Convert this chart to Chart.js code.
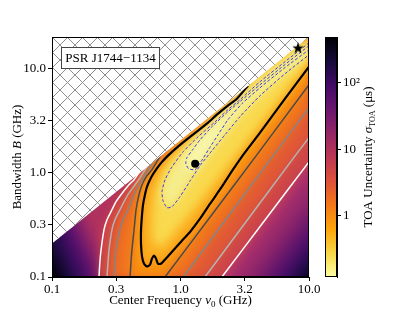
<!DOCTYPE html>
<html>
<head>
<meta charset="utf-8">
<script src="https://cdn.jsdelivr.net/npm/chart.js@4.4.3/dist/chart.umd.min.js"></script>
<style>
    html, body { margin: 0; padding: 0; background: #fff; }
    .wrap { position: relative; width: 415px; height: 312px; }
    .wrap canvas { position: absolute; left: 0; top: 0; }
</style>
</head>
<body>
<div class="wrap">
    <canvas id="mapChart" width="415" height="312"></canvas>
    <canvas id="barChart" width="415" height="312"></canvas>
</div>
<script>
const FONT = "'Liberation Serif', 'DejaVu Serif', serif";

// axes
const freqTicks = [0.1, 0.316, 1, 3.16, 10];
const freqTickLabels = ['0.1', '0.3', '1.0', '3.2', '10.0'];
const bandTicks = [0.1, 0.316, 1, 3.16, 10];
const bandTickLabels = ['0.1', '0.3', '1.0', '3.2', '10.0'];
const sigmaTicks = [1, 10, 100];
const sigmaTickLabels = ['1', '10', '10²'];
const sigmaRange = [0.12, 490];

// B = 2 nu0 limit, hatched above
const bandLimit = [[0.1, 0.21], [10, 20]];

// contour lines [nu0, B]
const whiteLeft = [[0.232, 0.1], [0.236, 0.140], [0.241, 0.183], [0.254, 0.284], [0.268, 0.354], [0.293, 0.442], [0.315, 0.527], [0.344, 0.615], [0.397, 0.767], [0.435, 0.857], [0.475, 1.00]];
const whiteRight = [[2.10, 0.1], [4.59, 0.358], [10, 1.27]];
const lgrayLeft = [[0.268, 0.1], [0.273, 0.140], [0.278, 0.183], [0.293, 0.284], [0.309, 0.354], [0.338, 0.442], [0.390, 0.615], [0.443, 0.767], [0.484, 0.896], [0.549, 1.14]];
const lgrayRight = [[1.55, 0.1], [7.92, 1.49], [10, 2.17]];
const grayLeft = [[0.304, 0.1], [0.309, 0.140], [0.315, 0.183], [0.338, 0.284], [0.357, 0.354], [0.390, 0.442], [0.435, 0.615], [0.475, 0.767], [0.520, 0.916], [0.600, 1.22]];
const grayRight = [[1.05, 0.1], [5.34, 1.49], [10, 4.20]];
const dgrayLeft = [[0.405, 0.1], [0.412, 0.140], [0.419, 0.183], [0.435, 0.284], [0.451, 0.442], [0.475, 0.615], [0.502, 0.767], [0.549, 0.936], [0.600, 1.07], [0.705, 1.49]];
const dgrayRight = [[0.758, 0.1], [1.73, 0.387], [3.94, 1.49], [10, 6.98]];
const blackLine = [[3.35, 6.83], [2.75, 5.12], [2.34, 4.39], [1.96, 3.68], [1.64, 3.02], [1.37, 2.53], [1.14, 2.12], [0.956, 1.78], [0.814, 1.49], [0.718, 1.27], [0.645, 1.07], [0.589, 0.896], [0.549, 0.734], [0.529, 0.615], [0.511, 0.493], [0.502, 0.396], [0.493, 0.284], [0.493, 0.204], [0.502, 0.157], [0.520, 0.134], [0.549, 0.126], [0.579, 0.131], [0.600, 0.150], [0.622, 0.160], [0.645, 0.150], [0.668, 0.134], [0.705, 0.134], [0.758, 0.147], [0.859, 0.175], [1.01, 0.218], [1.19, 0.272], [1.42, 0.362], [1.70, 0.504], [2.10, 0.734], [2.52, 1.04], [2.96, 1.39], [4.16, 2.42], [6.51, 5.12], [10, 10.4]];
// unlabelled level inside the black contour (only used for shading)
const midLevel = [[4.97, 10.6], [3.47, 7.14], [2.66, 5.12], [2.10, 3.93], [1.64, 2.95], [1.30, 2.26], [1.03, 1.70], [0.829, 1.27], [0.705, 0.916], [0.633, 0.643], [0.611, 0.462], [0.600, 0.317], [0.611, 0.228], [0.656, 0.195], [0.731, 0.200], [0.859, 0.254], [1.08, 0.354], [1.37, 0.504], [1.76, 0.751], [2.34, 1.17], [3.47, 2.17], [5.95, 5.12], [10, 11.9]];
const outerBlue = [[10, 17.6], [6.51, 11.6], [4.16, 7.46], [2.90, 5.01], [2.34, 4.02], [1.86, 3.08], [1.37, 2.21], [1.05, 1.59], [0.859, 1.14], [0.758, 0.857], [0.718, 0.657], [0.731, 0.539], [0.785, 0.462], [0.859, 0.472], [0.991, 0.589], [1.19, 0.838], [1.42, 1.17], [1.76, 1.63], [2.22, 2.31], [2.90, 3.44], [4.16, 5.47], [6.51, 8.90], [10, 13.5]];
const innerBlue = [[10, 16.5], [6.51, 10.9], [4.16, 6.98], [2.90, 4.80], [2.34, 3.85], [1.79, 2.82], [1.42, 2.07], [1.23, 1.63], [1.12, 1.39], [1.10, 1.22], [1.16, 1.09], [1.30, 1.07], [1.44, 1.27], [1.67, 1.70], [1.96, 2.31], [2.34, 3.22], [3.01, 4.59], [4.16, 6.53], [6.51, 10.2], [10, 15.1]];

const bestPoint = [[1.30, 1.22]];
const markPoint = [[8.21, 15.8]];

const infernoR = ['#fcffa4', '#f6d746', '#fca50a', '#f37819', '#dd513a', '#bc3754', '#932667', '#6a176e', '#420a68', '#160b39', '#000004'];

const rev = a => [...a].reverse();

function toPx(chart, p) {
    return [chart.scales.x.getPixelForValue(p[0]), chart.scales.y.getPixelForValue(p[1])];
}

function tracePolygon(ctx, chart, pts) {
    ctx.beginPath();
    pts.forEach((p, i) => {
        const [x, y] = toPx(chart, p);
        if (i === 0) ctx.moveTo(x, y); else ctx.lineTo(x, y);
    });
    ctx.closePath();
}

function leftOuterFill(chart) {
    const [x0, y0] = toPx(chart, [0.1, 0.1]);
    const g = chart.ctx.createLinearGradient(x0, y0 - 8, x0 + 50, y0 - 30);
    g.addColorStop(0, '#000004');
    g.addColorStop(0.25, '#1f0c48');
    g.addColorStop(0.55, '#510e6c');
    g.addColorStop(0.8, '#87216b');
    g.addColorStop(1, '#b0325e');
    return g;
}

function rightOuterFill(chart) {
    const [x0, y0] = toPx(chart, whiteRight[1]);
    const g = chart.ctx.createLinearGradient(x0, y0, x0 + 55, y0 + 42);
    g.addColorStop(0, '#b5356b');
    g.addColorStop(0.35, '#8a236b');
    g.addColorStop(0.65, '#51106b');
    g.addColorStop(0.85, '#240b4e');
    g.addColorStop(1, '#05041a');
    return g;
}

function shadedRegions(chart) {
    return [
        { pts: [[0.1, 0.1], ...whiteLeft, [0.1, 1]], fill: leftOuterFill(chart) },
        { pts: [...whiteRight, [10, 0.1]], fill: rightOuterFill(chart) },
        { pts: [...whiteLeft, [1, 20], [10, 20], ...rev(whiteRight)], fill: '#cd4649' },
        { pts: [...lgrayLeft, [1, 20], [10, 20], ...rev(lgrayRight)], fill: '#e15a35' },
        { pts: [...grayLeft, [1, 20], [10, 20], ...rev(grayRight)], fill: '#ef731f' },
        { pts: [...dgrayLeft, [1.5, 20], [10, 20], ...rev(dgrayRight)], fill: '#f88e10' },
        // steep rise just under the B = 2 nu0 edge
        { pts: [...blackLine.slice(0, 10), [0.6, 1.24]], fill: '#d24c44' },
        { pts: [...blackLine, [10, 20], [5, 20]], fill: '#fbb020' },
        { pts: [...midLevel, [10, 20]], fill: '#f9d94e' },
        { pts: outerBlue, fill: '#f5ed8c' },
        { pts: innerBlue, fill: '#f8f6ac' }
    ];
}

function makeHatch(ctx) {
    const s = 15;
    const c = document.createElement('canvas');
    c.width = s; c.height = s;
    const g = c.getContext('2d');
    g.strokeStyle = '#8e8e8e';
    g.lineWidth = 1;
    g.beginPath();
    g.moveTo(-1, -1); g.lineTo(s + 1, s + 1);
    g.moveTo(s + 1, -1); g.lineTo(-1, s + 1);
    g.stroke();
    return ctx.createPattern(c, 'repeat');
}

function makeStar(size) {
    const c = document.createElement('canvas');
    c.width = size; c.height = size;
    const g = c.getContext('2d');
    g.fillStyle = '#000';
    g.beginPath();
    for (let i = 0; i < 10; i++) {
        const r = i % 2 ? size * 0.2 : size * 0.5;
        const a = -Math.PI / 2 + i * Math.PI / 5;
        g.lineTo(size / 2 + r * Math.cos(a), size / 2 + r * Math.sin(a) + size * 0.05);
    }
    g.closePath();
    g.fill();
    return c;
}

function richText(ctx, parts, cx, cy, angle) {
    ctx.save();
    ctx.translate(cx, cy);
    ctx.rotate(angle);
    ctx.fillStyle = '#000';
    ctx.textBaseline = 'alphabetic';
    let total = 0;
    parts.forEach(p => { ctx.font = p.font; p.w = ctx.measureText(p.text).width; total += p.w; });
    let x = -total / 2;
    parts.forEach(p => {
        ctx.font = p.font;
        ctx.fillText(p.text, x, 4 + (p.dy || 0));
        x += p.w;
    });
    ctx.restore();
}

function clipArea(ctx, a) {
    ctx.beginPath();
    ctx.rect(a.left, a.top, a.right - a.left, a.bottom - a.top);
    ctx.clip();
}

const mapLayers = {
    id: 'mapLayers',
    beforeDatasetsDraw(chart) {
        const { ctx, chartArea } = chart;
        const regions = shadedRegions(chart);
        ctx.save();
        clipArea(ctx, chartArea);
        ['none', 'blur(5px)'].forEach(f => {
            ctx.filter = f;
            regions.forEach(r => {
                tracePolygon(ctx, chart, r.pts);
                ctx.fillStyle = r.fill;
                ctx.fill();
            });
        });
        ctx.filter = 'none';
        ctx.restore();
    },
    afterDatasetDraw(chart, args) {
        if (args.index !== 2) return;
        const { ctx, chartArea } = chart;
        ctx.save();
        clipArea(ctx, chartArea);
        tracePolygon(ctx, chart, [bandLimit[0], bandLimit[1], [10, 20], [0.1, 20]]);
        ctx.fillStyle = '#fff';
        ctx.fill();
        ctx.fillStyle = makeHatch(ctx);
        ctx.fill();
        ctx.restore();
    },
    afterDraw(chart) {
        const { ctx, chartArea: a } = chart;
        ctx.save();
        ctx.strokeStyle = '#000';
        ctx.lineWidth = 1;
        ctx.strokeRect(a.left + 0.5, a.top + 0.5, a.right - a.left - 1, a.bottom - a.top - 1);

        // pulsar label box
        ctx.fillStyle = '#fff';
        ctx.fillRect(a.left + 9.5, a.top + 10.5, 98, 21);
        ctx.strokeStyle = '#444';
        ctx.strokeRect(a.left + 9.5, a.top + 10.5, 98, 21);
        ctx.fillStyle = '#000';
        ctx.font = '13px ' + FONT;
        ctx.textAlign = 'center';
        ctx.textBaseline = 'middle';
        ctx.fillText('PSR J1744\u22121134', a.left + 58.5, a.top + 21.5);
        ctx.restore();

        const reg = '13px ' + FONT, ita = 'italic 13px ' + FONT, sub = '9px ' + FONT;
        richText(ctx, [
            { text: 'Center Frequency ', font: reg },
            { text: 'ν', font: ita },
            { text: '0', font: sub, dy: 3 },
            { text: ' (GHz)', font: reg }
        ], (a.left + a.right) / 2, 300, 0);
        richText(ctx, [
            { text: 'Bandwidth ', font: reg },
            { text: 'B', font: ita },
            { text: ' (GHz)', font: reg }
        ], 17, (a.top + a.bottom) / 2, -Math.PI / 2);
    }
};

function lineSet(data, color, width, dash) {
    return {
        data,
        showLine: true,
        borderColor: color,
        borderWidth: width,
        borderDash: dash || [],
        pointRadius: 0,
        tension: 0.2,
        fill: false,
        borderJoinStyle: 'round'
    };
}

const tickFont = { family: FONT, size: 13 };

new Chart(document.getElementById('mapChart'), {
    type: 'scatter',
    data: {
        datasets: [
            { data: bestPoint, pointRadius: 4, pointBackgroundColor: '#000', pointBorderWidth: 0 },
            { data: markPoint, pointStyle: makeStar(12), pointRadius: 6 },
            lineSet(innerBlue, '#3b3be0', 1, [3, 2]),
            lineSet(outerBlue, '#3b3be0', 1, [3, 2]),
            lineSet(blackLine, '#000', 2.2),
            lineSet(dgrayLeft, '#4a4a4a', 1.5),
            lineSet(dgrayRight, '#4a4a4a', 1.5),
            lineSet(grayLeft, '#858585', 1.5),
            lineSet(grayRight, '#858585', 1.5),
            lineSet(lgrayLeft, '#b4b4b4', 1.5),
            lineSet(lgrayRight, '#b4b4b4', 1.5),
            lineSet(whiteLeft, '#ffffff', 1.5),
            lineSet(whiteRight, '#ffffff', 1.5)
        ]
    },
    options: {
        responsive: false,
        animation: false,
        events: [],
        layout: { padding: { left: 0, top: 37, right: 106, bottom: 0 } },
        plugins: { legend: { display: false }, tooltip: { enabled: false } },
        scales: {
            x: {
                type: 'logarithmic',
                min: 0.1,
                max: 10,
                afterBuildTicks: s => { s.ticks = freqTicks.map(v => ({ value: v })); },
                afterFit: s => { s.height = 35; },
                ticks: { callback: (v, i) => freqTickLabels[i], font: tickFont, color: '#000', padding: 1, maxRotation: 0, autoSkip: false },
                grid: { drawOnChartArea: false, drawTicks: true, tickLength: 4, tickColor: '#000' },
                border: { display: true, color: '#000', width: 1 }
            },
            y: {
                type: 'logarithmic',
                min: 0.1,
                max: 20,
                afterBuildTicks: s => { s.ticks = bandTicks.map(v => ({ value: v })); },
                afterFit: s => { s.width = 52; },
                ticks: { callback: (v, i) => bandTickLabels[i], font: tickFont, color: '#000', padding: 2, autoSkip: false },
                grid: { drawOnChartArea: false, drawTicks: true, tickLength: 4, tickColor: '#000' },
                border: { display: true, color: '#000', width: 1 }
            }
        }
    },
    plugins: [mapLayers]
});

const barLabel = {
    id: 'barLabel',
    afterDraw(chart) {
        const { ctx, chartArea: a } = chart;
        ctx.save();
        ctx.strokeStyle = '#000';
        ctx.lineWidth = 1;
        ctx.strokeRect(a.left + 0.5, a.top + 0.5, a.right - a.left - 1, a.bottom - a.top - 1);
        ctx.restore();
        const reg = '13px ' + FONT;
        richText(ctx, [
            { text: 'TOA Uncertainty ', font: reg },
            { text: 'σ', font: 'italic 13px ' + FONT },
            { text: 'TOA', font: '8px ' + FONT, dy: 3 },
            { text: ' (μs)', font: reg }
        ], 368, (a.top + a.bottom) / 2, -Math.PI / 2);
    }
};

new Chart(document.getElementById('barChart'), {
    type: 'bar',
    data: {
        labels: [''],
        datasets: [{
            data: [sigmaRange],
            borderWidth: 0,
            barPercentage: 1,
            categoryPercentage: 1,
            backgroundColor: c => {
                const a = c.chart.chartArea;
                if (!a) return '#fca50a';
                const g = c.chart.ctx.createLinearGradient(0, a.bottom, 0, a.top);
                infernoR.forEach((col, i) => g.addColorStop(i / (infernoR.length - 1), col));
                return g;
            }
        }]
    },
    options: {
        responsive: false,
        animation: false,
        events: [],
        layout: { padding: { left: 325, top: 37, right: 0, bottom: 35 } },
        plugins: { legend: { display: false }, tooltip: { enabled: false } },
        scales: {
            x: { display: false },
            y: {
                type: 'logarithmic',
                position: 'right',
                min: sigmaRange[0],
                max: sigmaRange[1],
                afterBuildTicks: s => { s.ticks = sigmaTicks.map(v => ({ value: v })); },
                afterFit: s => { s.width = 78; },
                ticks: { callback: (v, i) => sigmaTickLabels[i], font: tickFont, color: '#000', padding: 2, autoSkip: false },
                grid: { drawOnChartArea: false, drawTicks: true, tickLength: 4, tickColor: '#000' },
                border: { display: true, color: '#000', width: 1 }
            }
        }
    },
    plugins: [barLabel]
});
</script>
</body>
</html>
